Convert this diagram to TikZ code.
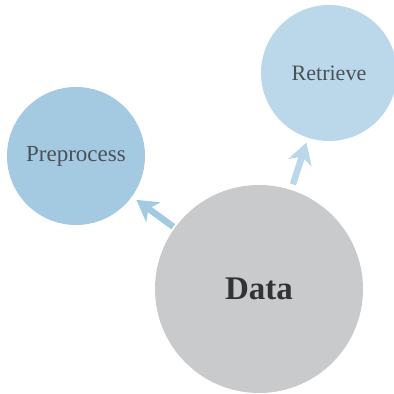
\documentclass[tikz,border=0pt]{standalone}
\usepackage{fontspec}
\setmainfont{Liberation Serif}
\usetikzlibrary{arrows.meta}
\definecolor{precol}{HTML}{A4CAE2}
\definecolor{retcol}{HTML}{BAD8EA}
\definecolor{datacol}{HTML}{C9CACC}
\definecolor{labcol}{HTML}{4A5056}
\definecolor{datatext}{HTML}{333333}
\tikzset{
  bubble/.style={circle, draw=none, inner sep=0pt, outer sep=0pt},
  flow/.style={line width=6.5pt, -{Stealth[length=21pt, width=24pt, inset=6pt]}},
}
\begin{document}
\begin{tikzpicture}[x=1pt, y=-1pt]
  \useasboundingbox (0,0) rectangle (394,394);
  % three stages as filled discs
  \node[bubble, fill=datacol, minimum size=208pt, text=datatext,
        font=\fontsize{33}{36}\selectfont\bfseries] (data) at (259,289) {Data};
  \node[bubble, fill=precol, minimum size=138pt, text=labcol,
        font=\fontsize{23}{26}\selectfont] (pre) at (76,156) {Preprocess};
  \node[bubble, fill=retcol, minimum size=136pt, text=labcol,
        font=\fontsize{22}{26}\selectfont] (ret) at (329,73) {Retrieve};
  % arrows from the data disc
  \draw[flow, precol, shorten <=2pt, shorten >=5.5pt] (data) -- (pre);
  \draw[flow, retcol, shorten <=6pt, shorten >=5pt] (data) -- (ret);
\end{tikzpicture}
\end{document}
